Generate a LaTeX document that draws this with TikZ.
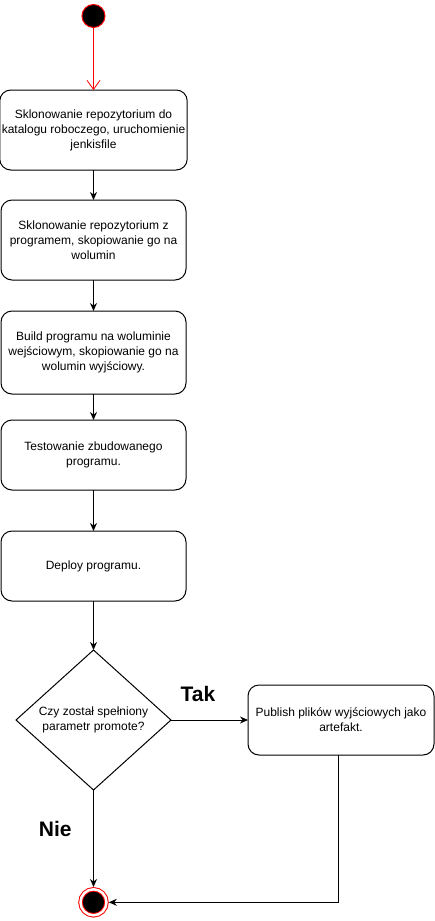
\documentclass[tikz,border=0pt]{standalone}
\usepackage{fontspec}
\setmainfont{Liberation Sans}
\usetikzlibrary{positioning,shapes.geometric,arrows.meta}

\begin{document}
\begin{tikzpicture}[x=1pt,y=-1pt,->,>={Stealth[length=8pt,width=7pt]},line width=1pt,
                    node distance=30pt,
                    main node/.style={rectangle,draw,rounded corners=11pt,minimum width=185pt,
                                      align=center,inner sep=2pt,outer sep=0pt,font=\fontsize{12}{15}\selectfont},
                    start node/.style={circle,draw=red,fill=black,minimum size=23pt,inner sep=0pt},
                    end node/.style={circle,draw=red,fill=black,double=white,double distance=2.5pt,
                                     minimum size=26pt,inner sep=0pt,outer sep=2.3pt},
                    decision node/.style={diamond,draw,aspect=1.1,minimum width=155pt,minimum height=140pt,
                                          inner sep=0pt,outer sep=0pt,align=center,font=\fontsize{12}{15}\selectfont},
                    answer/.style={font=\fontsize{21}{25}\selectfont\bfseries}]
  \useasboundingbox (0,0) rectangle (435,921);

  \node[start node] (s) at (93.5,16) {};
  \node[main node,minimum height=80pt] (1) [below=62pt of s]
    {Sklonowanie repozytorium do\\katalogu roboczego, uruchomienie\\jenkisfile};
  \node[main node,minimum height=80pt] (2) [below=30pt of 1]
    {Sklonowanie repozytorium z\\programem, skopiowanie go na\\wolumin};
  \node[main node,minimum height=83pt] (3) [below=31pt of 2]
    {Build programu na woluminie\\wejściowym, skopiowanie go na\\wolumin wyjściowy.};
  \node[main node,minimum height=70pt] (4) [below=26pt of 3]
    {Testowanie zbudowanego\\programu.};
  \node[main node,minimum height=70pt] (5) [below=41pt of 4]
    {Deploy programu.};
  \node[decision node] (d) [below=49pt of 5]
    {Czy został spełniony\\parametr promote?};
  \node[main node,minimum height=70pt,minimum width=186pt] (p) [right=77pt of d]
    {Publish plików wyjściowych jako\\artefakt.};
  \node[end node] (e) [below=97pt of d] {};

  \path[red,line width=0.8pt,-{Straight Barb[length=9pt,width=13pt]}] (s) edge (1);
  \path (1) edge (2)
        (2) edge (3)
        (3) edge (4)
        (4) edge (5)
        (5) edge (d)
        (d) edge node[answer,pos=0.35,above=14pt] {Tak} (p)
            edge node[answer,pos=0.4,left=18pt] {Nie} (e);
  \draw ([xshift=-3pt]p.south) |- (e);
\end{tikzpicture}
\end{document}
